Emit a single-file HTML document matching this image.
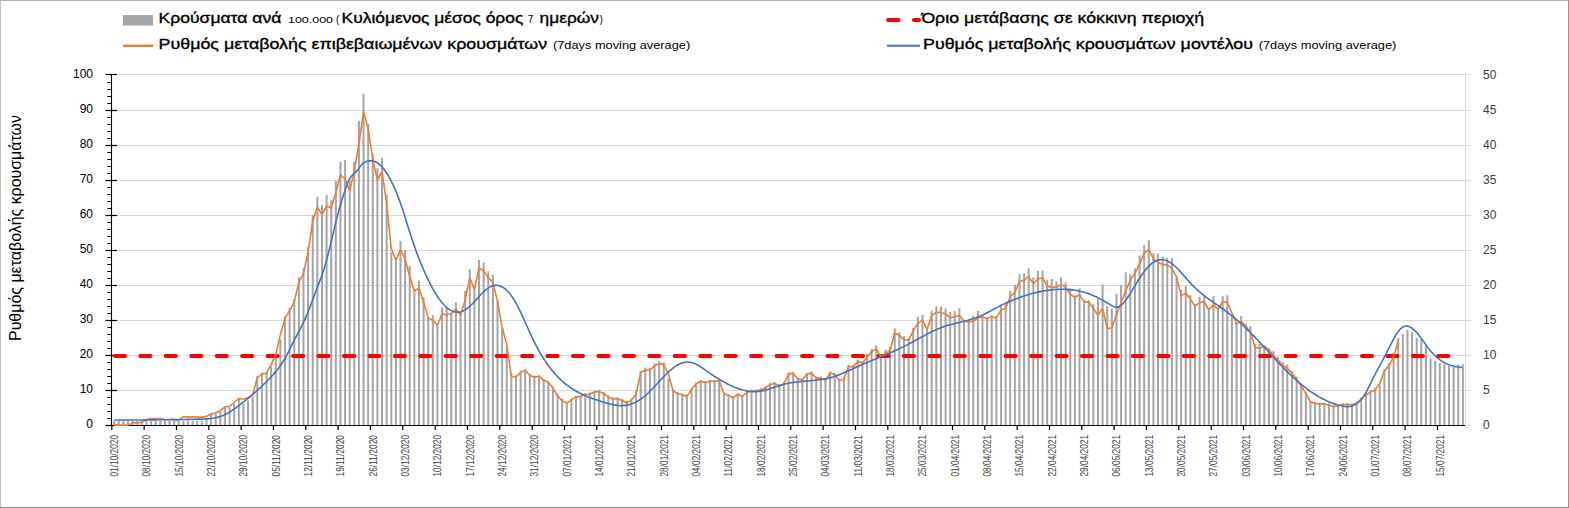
<!DOCTYPE html><html><head><meta charset="utf-8"><style>html,body{margin:0;padding:0;background:#fff;}svg{display:block;}text{font-family:"Liberation Sans",sans-serif;}</style></head><body>
<svg width="1569" height="508" viewBox="0 0 1569 508">
<rect x="0" y="0" width="1569" height="508" fill="#fff"/>
<rect x="0" y="0" width="1569" height="1" fill="#b4b4b4"/>
<rect x="0" y="0" width="1" height="508" fill="#bdbdbd"/>
<rect x="1568" y="0" width="1" height="508" fill="#959595"/>
<rect x="0" y="507" width="1569" height="1" fill="#8f8f8f"/>
<line x1="111.5" y1="390.50" x2="1465.5" y2="390.50" stroke="#d9d9d9" stroke-width="1"/>
<line x1="111.5" y1="355.50" x2="1465.5" y2="355.50" stroke="#d9d9d9" stroke-width="1"/>
<line x1="111.5" y1="320.50" x2="1465.5" y2="320.50" stroke="#d9d9d9" stroke-width="1"/>
<line x1="111.5" y1="285.50" x2="1465.5" y2="285.50" stroke="#d9d9d9" stroke-width="1"/>
<line x1="111.5" y1="250.50" x2="1465.5" y2="250.50" stroke="#d9d9d9" stroke-width="1"/>
<line x1="111.5" y1="215.50" x2="1465.5" y2="215.50" stroke="#d9d9d9" stroke-width="1"/>
<line x1="111.5" y1="180.50" x2="1465.5" y2="180.50" stroke="#d9d9d9" stroke-width="1"/>
<line x1="111.5" y1="145.50" x2="1465.5" y2="145.50" stroke="#d9d9d9" stroke-width="1"/>
<line x1="111.5" y1="110.50" x2="1465.5" y2="110.50" stroke="#d9d9d9" stroke-width="1"/>
<line x1="111.5" y1="74.50" x2="1465.5" y2="74.50" stroke="#d9d9d9" stroke-width="1"/>
<line x1="1465.5" y1="74" x2="1465.5" y2="425.5" stroke="#d9d9d9" stroke-width="1"/>
<line x1="1465.5" y1="425.50" x2="1471" y2="425.50" stroke="#d9d9d9" stroke-width="1"/>
<line x1="1465.5" y1="390.50" x2="1471" y2="390.50" stroke="#d9d9d9" stroke-width="1"/>
<line x1="1465.5" y1="355.50" x2="1471" y2="355.50" stroke="#d9d9d9" stroke-width="1"/>
<line x1="1465.5" y1="320.50" x2="1471" y2="320.50" stroke="#d9d9d9" stroke-width="1"/>
<line x1="1465.5" y1="285.50" x2="1471" y2="285.50" stroke="#d9d9d9" stroke-width="1"/>
<line x1="1465.5" y1="250.50" x2="1471" y2="250.50" stroke="#d9d9d9" stroke-width="1"/>
<line x1="1465.5" y1="215.50" x2="1471" y2="215.50" stroke="#d9d9d9" stroke-width="1"/>
<line x1="1465.5" y1="180.50" x2="1471" y2="180.50" stroke="#d9d9d9" stroke-width="1"/>
<line x1="1465.5" y1="145.50" x2="1471" y2="145.50" stroke="#d9d9d9" stroke-width="1"/>
<line x1="1465.5" y1="110.50" x2="1471" y2="110.50" stroke="#d9d9d9" stroke-width="1"/>
<line x1="1465.5" y1="74.50" x2="1471" y2="74.50" stroke="#d9d9d9" stroke-width="1"/>
<line x1="111.5" y1="74" x2="111.5" y2="426" stroke="#000" stroke-width="1.1"/>
<line x1="111" y1="425.5" x2="1465" y2="425.5" stroke="#000" stroke-width="1.1"/>
<line x1="105.5" y1="425.50" x2="117" y2="425.50" stroke="#000" stroke-width="1.2"/>
<line x1="107.3" y1="418.50" x2="111.5" y2="418.50" stroke="#000" stroke-width="1"/>
<line x1="107.3" y1="411.50" x2="111.5" y2="411.50" stroke="#000" stroke-width="1"/>
<line x1="107.3" y1="404.50" x2="111.5" y2="404.50" stroke="#000" stroke-width="1"/>
<line x1="107.3" y1="397.50" x2="111.5" y2="397.50" stroke="#000" stroke-width="1"/>
<line x1="105.5" y1="390.50" x2="117" y2="390.50" stroke="#000" stroke-width="1.2"/>
<line x1="107.3" y1="383.50" x2="111.5" y2="383.50" stroke="#000" stroke-width="1"/>
<line x1="107.3" y1="376.50" x2="111.5" y2="376.50" stroke="#000" stroke-width="1"/>
<line x1="107.3" y1="369.50" x2="111.5" y2="369.50" stroke="#000" stroke-width="1"/>
<line x1="107.3" y1="362.50" x2="111.5" y2="362.50" stroke="#000" stroke-width="1"/>
<line x1="105.5" y1="355.50" x2="117" y2="355.50" stroke="#000" stroke-width="1.2"/>
<line x1="107.3" y1="348.50" x2="111.5" y2="348.50" stroke="#000" stroke-width="1"/>
<line x1="107.3" y1="341.50" x2="111.5" y2="341.50" stroke="#000" stroke-width="1"/>
<line x1="107.3" y1="334.50" x2="111.5" y2="334.50" stroke="#000" stroke-width="1"/>
<line x1="107.3" y1="327.50" x2="111.5" y2="327.50" stroke="#000" stroke-width="1"/>
<line x1="105.5" y1="320.50" x2="117" y2="320.50" stroke="#000" stroke-width="1.2"/>
<line x1="107.3" y1="313.50" x2="111.5" y2="313.50" stroke="#000" stroke-width="1"/>
<line x1="107.3" y1="306.50" x2="111.5" y2="306.50" stroke="#000" stroke-width="1"/>
<line x1="107.3" y1="299.50" x2="111.5" y2="299.50" stroke="#000" stroke-width="1"/>
<line x1="107.3" y1="292.50" x2="111.5" y2="292.50" stroke="#000" stroke-width="1"/>
<line x1="105.5" y1="285.50" x2="117" y2="285.50" stroke="#000" stroke-width="1.2"/>
<line x1="107.3" y1="278.50" x2="111.5" y2="278.50" stroke="#000" stroke-width="1"/>
<line x1="107.3" y1="271.50" x2="111.5" y2="271.50" stroke="#000" stroke-width="1"/>
<line x1="107.3" y1="264.50" x2="111.5" y2="264.50" stroke="#000" stroke-width="1"/>
<line x1="107.3" y1="257.50" x2="111.5" y2="257.50" stroke="#000" stroke-width="1"/>
<line x1="105.5" y1="250.50" x2="117" y2="250.50" stroke="#000" stroke-width="1.2"/>
<line x1="107.3" y1="243.50" x2="111.5" y2="243.50" stroke="#000" stroke-width="1"/>
<line x1="107.3" y1="236.50" x2="111.5" y2="236.50" stroke="#000" stroke-width="1"/>
<line x1="107.3" y1="229.50" x2="111.5" y2="229.50" stroke="#000" stroke-width="1"/>
<line x1="107.3" y1="222.50" x2="111.5" y2="222.50" stroke="#000" stroke-width="1"/>
<line x1="105.5" y1="215.50" x2="117" y2="215.50" stroke="#000" stroke-width="1.2"/>
<line x1="107.3" y1="208.50" x2="111.5" y2="208.50" stroke="#000" stroke-width="1"/>
<line x1="107.3" y1="201.50" x2="111.5" y2="201.50" stroke="#000" stroke-width="1"/>
<line x1="107.3" y1="194.50" x2="111.5" y2="194.50" stroke="#000" stroke-width="1"/>
<line x1="107.3" y1="187.50" x2="111.5" y2="187.50" stroke="#000" stroke-width="1"/>
<line x1="105.5" y1="180.50" x2="117" y2="180.50" stroke="#000" stroke-width="1.2"/>
<line x1="107.3" y1="173.50" x2="111.5" y2="173.50" stroke="#000" stroke-width="1"/>
<line x1="107.3" y1="166.50" x2="111.5" y2="166.50" stroke="#000" stroke-width="1"/>
<line x1="107.3" y1="159.50" x2="111.5" y2="159.50" stroke="#000" stroke-width="1"/>
<line x1="107.3" y1="152.50" x2="111.5" y2="152.50" stroke="#000" stroke-width="1"/>
<line x1="105.5" y1="145.50" x2="117" y2="145.50" stroke="#000" stroke-width="1.2"/>
<line x1="107.3" y1="138.50" x2="111.5" y2="138.50" stroke="#000" stroke-width="1"/>
<line x1="107.3" y1="131.50" x2="111.5" y2="131.50" stroke="#000" stroke-width="1"/>
<line x1="107.3" y1="124.50" x2="111.5" y2="124.50" stroke="#000" stroke-width="1"/>
<line x1="107.3" y1="117.50" x2="111.5" y2="117.50" stroke="#000" stroke-width="1"/>
<line x1="105.5" y1="110.50" x2="117" y2="110.50" stroke="#000" stroke-width="1.2"/>
<line x1="107.3" y1="103.50" x2="111.5" y2="103.50" stroke="#000" stroke-width="1"/>
<line x1="107.3" y1="96.50" x2="111.5" y2="96.50" stroke="#000" stroke-width="1"/>
<line x1="107.3" y1="89.50" x2="111.5" y2="89.50" stroke="#000" stroke-width="1"/>
<line x1="107.3" y1="82.50" x2="111.5" y2="82.50" stroke="#000" stroke-width="1"/>
<line x1="105.5" y1="74.50" x2="117" y2="74.50" stroke="#000" stroke-width="1.2"/>
<line x1="111.80" y1="425.5" x2="111.80" y2="430" stroke="#000" stroke-width="1.2"/>
<line x1="144.13" y1="425.5" x2="144.13" y2="430" stroke="#000" stroke-width="1.2"/>
<line x1="176.47" y1="425.5" x2="176.47" y2="430" stroke="#000" stroke-width="1.2"/>
<line x1="208.80" y1="425.5" x2="208.80" y2="430" stroke="#000" stroke-width="1.2"/>
<line x1="241.14" y1="425.5" x2="241.14" y2="430" stroke="#000" stroke-width="1.2"/>
<line x1="273.47" y1="425.5" x2="273.47" y2="430" stroke="#000" stroke-width="1.2"/>
<line x1="305.80" y1="425.5" x2="305.80" y2="430" stroke="#000" stroke-width="1.2"/>
<line x1="338.14" y1="425.5" x2="338.14" y2="430" stroke="#000" stroke-width="1.2"/>
<line x1="370.47" y1="425.5" x2="370.47" y2="430" stroke="#000" stroke-width="1.2"/>
<line x1="402.80" y1="425.5" x2="402.80" y2="430" stroke="#000" stroke-width="1.2"/>
<line x1="435.14" y1="425.5" x2="435.14" y2="430" stroke="#000" stroke-width="1.2"/>
<line x1="467.47" y1="425.5" x2="467.47" y2="430" stroke="#000" stroke-width="1.2"/>
<line x1="499.81" y1="425.5" x2="499.81" y2="430" stroke="#000" stroke-width="1.2"/>
<line x1="532.14" y1="425.5" x2="532.14" y2="430" stroke="#000" stroke-width="1.2"/>
<line x1="564.47" y1="425.5" x2="564.47" y2="430" stroke="#000" stroke-width="1.2"/>
<line x1="596.81" y1="425.5" x2="596.81" y2="430" stroke="#000" stroke-width="1.2"/>
<line x1="629.14" y1="425.5" x2="629.14" y2="430" stroke="#000" stroke-width="1.2"/>
<line x1="661.47" y1="425.5" x2="661.47" y2="430" stroke="#000" stroke-width="1.2"/>
<line x1="693.81" y1="425.5" x2="693.81" y2="430" stroke="#000" stroke-width="1.2"/>
<line x1="726.14" y1="425.5" x2="726.14" y2="430" stroke="#000" stroke-width="1.2"/>
<line x1="758.48" y1="425.5" x2="758.48" y2="430" stroke="#000" stroke-width="1.2"/>
<line x1="790.81" y1="425.5" x2="790.81" y2="430" stroke="#000" stroke-width="1.2"/>
<line x1="823.14" y1="425.5" x2="823.14" y2="430" stroke="#000" stroke-width="1.2"/>
<line x1="855.48" y1="425.5" x2="855.48" y2="430" stroke="#000" stroke-width="1.2"/>
<line x1="887.81" y1="425.5" x2="887.81" y2="430" stroke="#000" stroke-width="1.2"/>
<line x1="920.14" y1="425.5" x2="920.14" y2="430" stroke="#000" stroke-width="1.2"/>
<line x1="952.48" y1="425.5" x2="952.48" y2="430" stroke="#000" stroke-width="1.2"/>
<line x1="984.81" y1="425.5" x2="984.81" y2="430" stroke="#000" stroke-width="1.2"/>
<line x1="1017.15" y1="425.5" x2="1017.15" y2="430" stroke="#000" stroke-width="1.2"/>
<line x1="1049.48" y1="425.5" x2="1049.48" y2="430" stroke="#000" stroke-width="1.2"/>
<line x1="1081.81" y1="425.5" x2="1081.81" y2="430" stroke="#000" stroke-width="1.2"/>
<line x1="1114.15" y1="425.5" x2="1114.15" y2="430" stroke="#000" stroke-width="1.2"/>
<line x1="1146.48" y1="425.5" x2="1146.48" y2="430" stroke="#000" stroke-width="1.2"/>
<line x1="1178.82" y1="425.5" x2="1178.82" y2="430" stroke="#000" stroke-width="1.2"/>
<line x1="1211.15" y1="425.5" x2="1211.15" y2="430" stroke="#000" stroke-width="1.2"/>
<line x1="1243.48" y1="425.5" x2="1243.48" y2="430" stroke="#000" stroke-width="1.2"/>
<line x1="1275.82" y1="425.5" x2="1275.82" y2="430" stroke="#000" stroke-width="1.2"/>
<line x1="1308.15" y1="425.5" x2="1308.15" y2="430" stroke="#000" stroke-width="1.2"/>
<line x1="1340.48" y1="425.5" x2="1340.48" y2="430" stroke="#000" stroke-width="1.2"/>
<line x1="1372.82" y1="425.5" x2="1372.82" y2="430" stroke="#000" stroke-width="1.2"/>
<line x1="1405.15" y1="425.5" x2="1405.15" y2="430" stroke="#000" stroke-width="1.2"/>
<line x1="1437.49" y1="425.5" x2="1437.49" y2="430" stroke="#000" stroke-width="1.2"/>
<g fill="#a5a5a5"><rect x="113.11" y="420.80" width="2.0" height="4.20"/><rect x="117.73" y="420.80" width="2.0" height="4.20"/><rect x="122.35" y="420.80" width="2.0" height="4.20"/><rect x="126.97" y="420.80" width="2.0" height="4.20"/><rect x="131.59" y="420.80" width="2.0" height="4.20"/><rect x="136.21" y="420.80" width="2.0" height="4.20"/><rect x="140.82" y="420.80" width="2.0" height="4.20"/><rect x="145.44" y="420.80" width="2.0" height="4.20"/><rect x="150.06" y="420.80" width="2.0" height="4.20"/><rect x="154.68" y="420.80" width="2.0" height="4.20"/><rect x="159.30" y="420.80" width="2.0" height="4.20"/><rect x="163.92" y="420.80" width="2.0" height="4.20"/><rect x="168.54" y="420.80" width="2.0" height="4.20"/><rect x="173.16" y="420.80" width="2.0" height="4.20"/><rect x="177.78" y="420.80" width="2.0" height="4.20"/><rect x="182.40" y="420.80" width="2.0" height="4.20"/><rect x="187.02" y="420.80" width="2.0" height="4.20"/><rect x="191.63" y="420.80" width="2.0" height="4.20"/><rect x="196.25" y="420.80" width="2.0" height="4.20"/><rect x="200.87" y="420.80" width="2.0" height="4.20"/><rect x="205.49" y="418.90" width="2.0" height="6.10"/><rect x="210.11" y="414.00" width="2.0" height="11.00"/><rect x="214.73" y="413.50" width="2.0" height="11.50"/><rect x="219.35" y="411.30" width="2.0" height="13.70"/><rect x="223.97" y="407.90" width="2.0" height="17.10"/><rect x="228.59" y="407.40" width="2.0" height="17.60"/><rect x="233.21" y="403.50" width="2.0" height="21.50"/><rect x="237.83" y="398.50" width="2.0" height="26.50"/><rect x="242.44" y="403.50" width="2.0" height="21.50"/><rect x="247.06" y="400.50" width="2.0" height="24.50"/><rect x="251.68" y="396.60" width="2.0" height="28.40"/><rect x="256.30" y="376.40" width="2.0" height="48.60"/><rect x="260.92" y="372.50" width="2.0" height="52.50"/><rect x="265.54" y="372.00" width="2.0" height="53.00"/><rect x="270.16" y="366.20" width="2.0" height="58.80"/><rect x="274.78" y="353.90" width="2.0" height="71.10"/><rect x="279.40" y="339.40" width="2.0" height="85.60"/><rect x="284.02" y="316.00" width="2.0" height="109.00"/><rect x="288.64" y="307.80" width="2.0" height="117.20"/><rect x="293.25" y="299.00" width="2.0" height="126.00"/><rect x="297.87" y="277.20" width="2.0" height="147.80"/><rect x="302.49" y="268.20" width="2.0" height="156.80"/><rect x="307.11" y="247.00" width="2.0" height="178.00"/><rect x="311.73" y="214.50" width="2.0" height="210.50"/><rect x="316.35" y="196.60" width="2.0" height="228.40"/><rect x="320.97" y="205.00" width="2.0" height="220.00"/><rect x="325.59" y="195.10" width="2.0" height="229.90"/><rect x="330.21" y="200.20" width="2.0" height="224.80"/><rect x="334.83" y="181.00" width="2.0" height="244.00"/><rect x="339.45" y="161.80" width="2.0" height="263.20"/><rect x="344.07" y="160.00" width="2.0" height="265.00"/><rect x="348.68" y="181.00" width="2.0" height="244.00"/><rect x="353.30" y="161.80" width="2.0" height="263.20"/><rect x="357.92" y="120.90" width="2.0" height="304.10"/><rect x="362.54" y="94.10" width="2.0" height="330.90"/><rect x="367.16" y="124.00" width="2.0" height="301.00"/><rect x="371.78" y="154.20" width="2.0" height="270.80"/><rect x="376.40" y="168.20" width="2.0" height="256.80"/><rect x="381.02" y="158.00" width="2.0" height="267.00"/><rect x="385.64" y="195.10" width="2.0" height="229.90"/><rect x="390.26" y="252.40" width="2.0" height="172.60"/><rect x="394.88" y="260.10" width="2.0" height="164.90"/><rect x="399.49" y="240.90" width="2.0" height="184.10"/><rect x="404.11" y="249.90" width="2.0" height="175.10"/><rect x="408.73" y="266.00" width="2.0" height="159.00"/><rect x="413.35" y="289.50" width="2.0" height="135.50"/><rect x="417.97" y="280.60" width="2.0" height="144.40"/><rect x="422.59" y="297.20" width="2.0" height="127.80"/><rect x="427.21" y="317.60" width="2.0" height="107.40"/><rect x="431.83" y="315.10" width="2.0" height="109.90"/><rect x="436.45" y="325.30" width="2.0" height="99.70"/><rect x="441.07" y="307.40" width="2.0" height="117.60"/><rect x="445.69" y="307.40" width="2.0" height="117.60"/><rect x="450.30" y="312.50" width="2.0" height="112.50"/><rect x="454.92" y="302.30" width="2.0" height="122.70"/><rect x="459.54" y="312.50" width="2.0" height="112.50"/><rect x="464.16" y="290.80" width="2.0" height="134.20"/><rect x="468.78" y="269.10" width="2.0" height="155.90"/><rect x="473.40" y="287.00" width="2.0" height="138.00"/><rect x="478.02" y="260.00" width="2.0" height="165.00"/><rect x="482.64" y="262.50" width="2.0" height="162.50"/><rect x="487.26" y="271.20" width="2.0" height="153.80"/><rect x="491.88" y="274.50" width="2.0" height="150.50"/><rect x="496.50" y="301.40" width="2.0" height="123.60"/><rect x="501.12" y="328.28" width="2.0" height="96.72"/><rect x="505.73" y="347.44" width="2.0" height="77.56"/><rect x="510.35" y="372.89" width="2.0" height="52.11"/><rect x="514.97" y="375.33" width="2.0" height="49.67"/><rect x="519.59" y="370.76" width="2.0" height="54.24"/><rect x="524.21" y="369.13" width="2.0" height="55.87"/><rect x="528.83" y="373.97" width="2.0" height="51.03"/><rect x="533.45" y="375.67" width="2.0" height="49.33"/><rect x="538.07" y="375.04" width="2.0" height="49.96"/><rect x="542.69" y="378.93" width="2.0" height="46.07"/><rect x="547.31" y="380.95" width="2.0" height="44.05"/><rect x="551.93" y="386.51" width="2.0" height="38.49"/><rect x="556.54" y="393.93" width="2.0" height="31.07"/><rect x="561.16" y="398.76" width="2.0" height="26.24"/><rect x="565.78" y="401.69" width="2.0" height="23.31"/><rect x="570.40" y="398.60" width="2.0" height="26.40"/><rect x="575.02" y="395.75" width="2.0" height="29.25"/><rect x="579.64" y="395.07" width="2.0" height="29.93"/><rect x="584.26" y="393.57" width="2.0" height="31.43"/><rect x="588.88" y="392.58" width="2.0" height="32.42"/><rect x="593.50" y="390.83" width="2.0" height="34.17"/><rect x="598.12" y="389.93" width="2.0" height="35.07"/><rect x="602.74" y="392.28" width="2.0" height="32.72"/><rect x="607.35" y="395.50" width="2.0" height="29.50"/><rect x="611.97" y="397.39" width="2.0" height="27.61"/><rect x="616.59" y="397.40" width="2.0" height="27.60"/><rect x="621.21" y="398.78" width="2.0" height="26.22"/><rect x="625.83" y="400.85" width="2.0" height="24.15"/><rect x="630.45" y="398.62" width="2.0" height="26.38"/><rect x="635.07" y="390.39" width="2.0" height="34.61"/><rect x="639.69" y="370.85" width="2.0" height="54.15"/><rect x="644.31" y="367.60" width="2.0" height="57.40"/><rect x="648.93" y="368.00" width="2.0" height="57.00"/><rect x="653.55" y="363.30" width="2.0" height="61.70"/><rect x="658.16" y="361.30" width="2.0" height="63.70"/><rect x="662.78" y="362.40" width="2.0" height="62.60"/><rect x="667.40" y="378.60" width="2.0" height="46.40"/><rect x="672.02" y="389.51" width="2.0" height="35.49"/><rect x="676.64" y="392.12" width="2.0" height="32.88"/><rect x="681.26" y="393.39" width="2.0" height="31.61"/><rect x="685.88" y="394.64" width="2.0" height="30.36"/><rect x="690.50" y="387.98" width="2.0" height="37.02"/><rect x="695.12" y="382.29" width="2.0" height="42.71"/><rect x="699.74" y="379.88" width="2.0" height="45.12"/><rect x="704.36" y="380.94" width="2.0" height="44.06"/><rect x="708.98" y="379.88" width="2.0" height="45.12"/><rect x="713.59" y="379.80" width="2.0" height="45.20"/><rect x="718.21" y="379.69" width="2.0" height="45.31"/><rect x="722.83" y="392.05" width="2.0" height="32.95"/><rect x="727.45" y="393.92" width="2.0" height="31.08"/><rect x="732.07" y="395.99" width="2.0" height="29.01"/><rect x="736.69" y="392.94" width="2.0" height="32.06"/><rect x="741.31" y="394.77" width="2.0" height="30.23"/><rect x="745.93" y="391.12" width="2.0" height="33.88"/><rect x="750.55" y="389.60" width="2.0" height="35.40"/><rect x="755.17" y="389.50" width="2.0" height="35.50"/><rect x="759.79" y="388.08" width="2.0" height="36.92"/><rect x="764.40" y="386.06" width="2.0" height="38.94"/><rect x="769.02" y="383.04" width="2.0" height="41.96"/><rect x="773.64" y="382.15" width="2.0" height="42.85"/><rect x="778.26" y="384.18" width="2.0" height="40.82"/><rect x="782.88" y="381.88" width="2.0" height="43.12"/><rect x="787.50" y="372.51" width="2.0" height="52.49"/><rect x="792.12" y="372.36" width="2.0" height="52.64"/><rect x="796.74" y="377.66" width="2.0" height="47.34"/><rect x="801.36" y="378.43" width="2.0" height="46.57"/><rect x="805.98" y="372.87" width="2.0" height="52.13"/><rect x="810.60" y="371.60" width="2.0" height="53.40"/><rect x="815.21" y="376.60" width="2.0" height="48.40"/><rect x="819.83" y="376.60" width="2.0" height="48.40"/><rect x="824.45" y="378.44" width="2.0" height="46.56"/><rect x="829.07" y="371.64" width="2.0" height="53.36"/><rect x="833.69" y="373.78" width="2.0" height="51.22"/><rect x="838.31" y="378.92" width="2.0" height="46.08"/><rect x="842.93" y="376.85" width="2.0" height="48.15"/><rect x="847.55" y="364.97" width="2.0" height="60.03"/><rect x="852.17" y="364.90" width="2.0" height="60.10"/><rect x="856.79" y="359.40" width="2.0" height="65.60"/><rect x="861.41" y="361.39" width="2.0" height="63.61"/><rect x="866.02" y="353.90" width="2.0" height="71.10"/><rect x="870.64" y="349.10" width="2.0" height="75.90"/><rect x="875.26" y="345.20" width="2.0" height="79.80"/><rect x="879.88" y="354.44" width="2.0" height="70.56"/><rect x="884.50" y="349.50" width="2.0" height="75.50"/><rect x="889.12" y="346.74" width="2.0" height="78.26"/><rect x="893.74" y="328.30" width="2.0" height="96.70"/><rect x="898.36" y="332.20" width="2.0" height="92.80"/><rect x="902.98" y="336.10" width="2.0" height="88.90"/><rect x="907.60" y="338.41" width="2.0" height="86.59"/><rect x="912.22" y="328.00" width="2.0" height="97.00"/><rect x="916.84" y="316.70" width="2.0" height="108.30"/><rect x="921.45" y="314.80" width="2.0" height="110.20"/><rect x="926.07" y="327.74" width="2.0" height="97.26"/><rect x="930.69" y="310.80" width="2.0" height="114.20"/><rect x="935.31" y="306.10" width="2.0" height="118.90"/><rect x="939.93" y="306.50" width="2.0" height="118.50"/><rect x="944.55" y="308.40" width="2.0" height="116.60"/><rect x="949.17" y="312.00" width="2.0" height="113.00"/><rect x="953.79" y="311.00" width="2.0" height="114.00"/><rect x="958.41" y="308.20" width="2.0" height="116.80"/><rect x="963.03" y="319.65" width="2.0" height="105.35"/><rect x="967.65" y="320.28" width="2.0" height="104.72"/><rect x="972.26" y="315.50" width="2.0" height="109.50"/><rect x="976.88" y="311.00" width="2.0" height="114.00"/><rect x="981.50" y="315.36" width="2.0" height="109.64"/><rect x="986.12" y="317.01" width="2.0" height="107.99"/><rect x="990.74" y="315.24" width="2.0" height="109.76"/><rect x="995.36" y="316.30" width="2.0" height="108.70"/><rect x="999.98" y="304.90" width="2.0" height="120.10"/><rect x="1004.60" y="303.70" width="2.0" height="121.30"/><rect x="1009.22" y="290.80" width="2.0" height="134.20"/><rect x="1013.84" y="284.90" width="2.0" height="140.10"/><rect x="1018.46" y="274.30" width="2.0" height="150.70"/><rect x="1023.07" y="273.10" width="2.0" height="151.90"/><rect x="1027.69" y="268.30" width="2.0" height="156.70"/><rect x="1032.31" y="277.30" width="2.0" height="147.70"/><rect x="1036.93" y="270.70" width="2.0" height="154.30"/><rect x="1041.55" y="270.70" width="2.0" height="154.30"/><rect x="1046.17" y="279.70" width="2.0" height="145.30"/><rect x="1050.79" y="279.00" width="2.0" height="146.00"/><rect x="1055.41" y="281.30" width="2.0" height="143.70"/><rect x="1060.03" y="277.30" width="2.0" height="147.70"/><rect x="1064.65" y="282.50" width="2.0" height="142.50"/><rect x="1069.27" y="288.40" width="2.0" height="136.60"/><rect x="1073.88" y="295.57" width="2.0" height="129.43"/><rect x="1078.50" y="288.40" width="2.0" height="136.60"/><rect x="1083.12" y="299.69" width="2.0" height="125.31"/><rect x="1087.74" y="300.40" width="2.0" height="124.60"/><rect x="1092.36" y="303.80" width="2.0" height="121.20"/><rect x="1096.98" y="298.60" width="2.0" height="126.40"/><rect x="1101.60" y="284.40" width="2.0" height="140.60"/><rect x="1106.22" y="306.10" width="2.0" height="118.90"/><rect x="1110.84" y="308.60" width="2.0" height="116.40"/><rect x="1115.46" y="294.15" width="2.0" height="130.85"/><rect x="1120.08" y="285.00" width="2.0" height="140.00"/><rect x="1124.70" y="272.40" width="2.0" height="152.60"/><rect x="1129.31" y="274.30" width="2.0" height="150.70"/><rect x="1133.93" y="268.40" width="2.0" height="156.60"/><rect x="1138.55" y="255.40" width="2.0" height="169.60"/><rect x="1143.17" y="244.80" width="2.0" height="180.20"/><rect x="1147.79" y="240.10" width="2.0" height="184.90"/><rect x="1152.41" y="253.10" width="2.0" height="171.90"/><rect x="1157.03" y="253.50" width="2.0" height="171.50"/><rect x="1161.65" y="256.60" width="2.0" height="168.40"/><rect x="1166.27" y="257.80" width="2.0" height="167.20"/><rect x="1170.89" y="257.80" width="2.0" height="167.20"/><rect x="1175.51" y="276.70" width="2.0" height="148.30"/><rect x="1180.12" y="289.70" width="2.0" height="135.30"/><rect x="1184.74" y="286.10" width="2.0" height="138.90"/><rect x="1189.36" y="295.10" width="2.0" height="129.90"/><rect x="1193.98" y="304.42" width="2.0" height="120.58"/><rect x="1198.60" y="296.80" width="2.0" height="128.20"/><rect x="1203.22" y="295.60" width="2.0" height="129.40"/><rect x="1207.84" y="308.16" width="2.0" height="116.84"/><rect x="1212.46" y="296.10" width="2.0" height="128.90"/><rect x="1217.08" y="307.69" width="2.0" height="117.31"/><rect x="1221.70" y="296.10" width="2.0" height="128.90"/><rect x="1226.32" y="295.20" width="2.0" height="129.80"/><rect x="1230.93" y="314.20" width="2.0" height="110.80"/><rect x="1235.55" y="322.40" width="2.0" height="102.60"/><rect x="1240.17" y="316.10" width="2.0" height="108.90"/><rect x="1244.79" y="323.60" width="2.0" height="101.40"/><rect x="1249.41" y="326.00" width="2.0" height="99.00"/><rect x="1254.03" y="343.70" width="2.0" height="81.30"/><rect x="1258.65" y="343.70" width="2.0" height="81.30"/><rect x="1263.27" y="346.10" width="2.0" height="78.90"/><rect x="1267.89" y="348.40" width="2.0" height="76.60"/><rect x="1272.51" y="350.80" width="2.0" height="74.20"/><rect x="1277.13" y="356.70" width="2.0" height="68.30"/><rect x="1281.75" y="361.90" width="2.0" height="63.10"/><rect x="1286.36" y="364.30" width="2.0" height="60.70"/><rect x="1290.98" y="370.90" width="2.0" height="54.10"/><rect x="1295.60" y="376.80" width="2.0" height="48.20"/><rect x="1300.22" y="383.90" width="2.0" height="41.10"/><rect x="1304.84" y="392.10" width="2.0" height="32.90"/><rect x="1309.46" y="401.60" width="2.0" height="23.40"/><rect x="1314.08" y="401.75" width="2.0" height="23.25"/><rect x="1318.70" y="402.34" width="2.0" height="22.66"/><rect x="1323.32" y="402.40" width="2.0" height="22.60"/><rect x="1327.94" y="403.36" width="2.0" height="21.64"/><rect x="1332.56" y="404.92" width="2.0" height="20.08"/><rect x="1337.17" y="404.54" width="2.0" height="20.46"/><rect x="1341.79" y="403.02" width="2.0" height="21.98"/><rect x="1346.41" y="403.04" width="2.0" height="21.96"/><rect x="1351.03" y="403.29" width="2.0" height="21.71"/><rect x="1355.65" y="401.62" width="2.0" height="23.38"/><rect x="1360.27" y="397.73" width="2.0" height="27.27"/><rect x="1364.89" y="393.52" width="2.0" height="31.48"/><rect x="1369.51" y="390.59" width="2.0" height="34.41"/><rect x="1374.13" y="387.88" width="2.0" height="37.12"/><rect x="1378.75" y="384.70" width="2.0" height="40.30"/><rect x="1383.37" y="369.60" width="2.0" height="55.40"/><rect x="1387.98" y="363.40" width="2.0" height="61.60"/><rect x="1392.60" y="353.10" width="2.0" height="71.90"/><rect x="1397.22" y="337.90" width="2.0" height="87.10"/><rect x="1401.84" y="333.80" width="2.0" height="91.20"/><rect x="1406.46" y="329.90" width="2.0" height="95.10"/><rect x="1411.08" y="332.10" width="2.0" height="92.90"/><rect x="1415.70" y="337.90" width="2.0" height="87.10"/><rect x="1420.32" y="339.50" width="2.0" height="85.50"/><rect x="1424.94" y="345.40" width="2.0" height="79.60"/><rect x="1429.56" y="358.40" width="2.0" height="66.60"/><rect x="1434.18" y="360.80" width="2.0" height="64.20"/><rect x="1438.79" y="363.20" width="2.0" height="61.80"/><rect x="1443.41" y="364.30" width="2.0" height="60.70"/><rect x="1448.03" y="365.50" width="2.0" height="59.50"/><rect x="1452.65" y="366.70" width="2.0" height="58.30"/><rect x="1457.27" y="364.30" width="2.0" height="60.70"/><rect x="1461.89" y="364.30" width="2.0" height="60.70"/></g>
<line x1="114.8" y1="356" x2="1460" y2="356" stroke="#ff0000" stroke-width="3.8" stroke-linecap="round" stroke-dasharray="10.3 15.15"/>
<polyline points="114.11,425.10 118.73,425.10 123.35,425.10 127.97,425.10 132.59,422.90 137.21,422.90 141.82,422.30 146.44,419.55 151.06,418.50 155.68,418.50 160.30,418.50 164.92,419.50 169.54,419.50 174.16,419.50 178.78,420.30 183.40,416.70 188.02,416.90 192.63,416.90 197.25,417.10 201.87,417.10 206.49,416.40 211.11,414.00 215.73,412.70 220.35,410.70 224.97,406.90 229.59,406.40 234.21,402.50 238.83,398.50 243.44,399.00 248.06,397.74 252.68,395.10 257.30,377.40 261.92,374.40 266.54,373.00 271.16,364.70 275.78,355.00 280.40,334.40 285.02,318.20 289.64,310.60 294.25,301.90 298.87,282.30 303.49,273.40 308.11,251.60 312.73,221.00 317.35,206.90 321.97,214.50 326.59,206.06 331.21,207.90 335.83,192.50 340.45,174.80 345.07,179.20 349.68,190.80 354.30,171.30 358.92,143.90 363.54,112.00 368.16,128.60 372.78,160.00 377.40,180.00 382.02,171.50 386.64,203.16 391.26,248.60 395.88,260.10 400.49,249.90 405.11,258.80 409.73,276.70 414.35,290.80 418.97,288.20 423.59,302.30 428.21,317.60 432.83,320.20 437.45,325.30 442.07,313.80 446.69,315.10 451.30,313.80 455.92,308.70 460.54,315.10 465.16,299.70 469.78,278.00 474.40,289.00 479.02,268.00 483.64,270.70 488.26,277.90 492.88,282.20 497.50,301.40 502.12,327.00 506.73,344.90 511.35,376.30 515.97,377.20 520.59,372.30 525.21,370.40 529.83,375.30 534.45,377.20 539.07,376.30 543.69,380.20 548.31,382.20 552.93,388.10 557.54,396.00 562.16,400.90 566.78,403.20 571.40,399.90 576.02,396.90 580.64,396.50 585.26,394.60 589.88,394.00 594.50,392.00 599.12,391.40 603.74,393.40 608.35,396.90 612.97,398.90 617.59,398.90 622.21,400.50 626.83,402.80 631.45,400.12 636.07,394.30 640.69,372.30 645.31,370.20 649.93,369.90 654.55,366.00 659.16,363.60 663.78,364.40 668.40,373.90 673.02,390.70 677.64,393.50 682.26,394.80 686.88,396.40 691.50,389.60 696.12,383.80 700.74,381.30 705.36,382.50 709.98,381.30 714.59,381.30 719.21,380.60 723.83,393.50 728.45,395.40 733.07,397.50 737.69,394.30 742.31,396.40 746.93,392.30 751.55,391.00 756.17,391.00 760.79,389.90 765.40,387.90 770.02,384.60 774.64,383.40 779.26,385.90 783.88,384.00 788.50,374.10 793.12,373.10 797.74,379.10 802.36,380.00 806.98,374.10 811.60,373.10 816.21,378.10 820.83,378.10 825.45,380.00 830.07,373.10 834.69,374.10 839.31,380.60 843.93,379.10 848.55,366.30 853.17,367.20 857.79,361.30 862.41,362.90 867.02,357.40 871.64,351.50 876.26,349.10 880.88,356.40 885.50,353.50 890.12,350.50 894.74,333.00 899.36,335.50 903.98,339.80 908.60,340.30 913.22,330.90 917.84,323.30 922.45,320.20 927.07,329.70 931.69,315.50 936.31,312.40 940.93,312.40 945.55,313.90 950.17,317.90 954.79,316.70 959.41,315.50 964.03,321.00 968.65,321.90 973.26,321.00 977.88,317.90 982.50,316.70 987.12,318.60 991.74,316.70 996.36,317.90 1000.98,310.10 1005.60,308.40 1010.22,296.70 1014.84,292.40 1019.46,281.30 1024.07,280.20 1028.69,276.60 1033.31,283.70 1037.93,279.00 1042.55,277.80 1047.17,286.10 1051.79,287.20 1056.41,287.20 1061.03,284.40 1065.65,287.20 1070.27,294.30 1074.88,297.20 1079.50,294.80 1084.12,301.90 1088.74,301.90 1093.36,308.50 1097.98,315.10 1102.60,308.50 1107.22,328.60 1111.84,327.90 1116.46,315.10 1121.08,302.70 1125.70,290.90 1130.31,280.20 1134.93,273.20 1139.55,263.70 1144.17,253.10 1148.79,249.50 1153.41,259.00 1158.03,262.50 1162.65,264.40 1167.27,264.90 1171.89,268.40 1176.51,276.70 1181.12,295.60 1185.74,293.20 1190.36,299.10 1194.98,306.20 1199.60,302.70 1204.22,301.50 1208.84,309.80 1213.46,305.00 1218.08,309.30 1222.70,301.50 1227.32,302.40 1231.93,313.00 1236.55,323.60 1241.17,321.30 1245.79,326.00 1250.41,331.90 1255.03,347.20 1259.65,348.40 1264.27,346.10 1268.89,349.60 1273.51,355.50 1278.13,360.20 1282.75,365.00 1287.36,368.50 1291.98,373.20 1296.60,379.10 1301.22,386.20 1305.84,393.30 1310.46,401.60 1315.08,403.50 1319.70,403.90 1324.32,403.90 1328.94,405.10 1333.56,406.80 1338.17,405.80 1342.79,404.52 1347.41,404.54 1352.03,404.79 1356.65,403.12 1361.27,399.23 1365.89,395.02 1370.51,392.09 1375.13,390.00 1379.75,383.40 1384.37,371.00 1388.98,365.50 1393.60,357.20 1398.22,341.00" fill="none" stroke="#ed7d31" stroke-width="1.6" stroke-linejoin="round"/>
<polyline points="114.11,420.07 115.11,420.07 116.11,420.06 117.11,420.06 118.11,420.05 119.11,420.05 120.11,420.05 121.11,420.04 122.11,420.04 123.11,420.03 124.11,420.03 125.11,420.03 126.11,420.02 127.11,420.02 128.11,420.01 129.11,420.01 130.11,420.00 131.11,420.00 132.11,419.99 133.11,419.99 134.11,419.98 135.11,419.98 136.11,419.97 137.11,419.97 138.11,419.96 139.11,419.96 140.11,419.95 141.11,419.94 142.11,419.94 143.11,419.93 144.11,419.92 145.11,419.92 146.11,419.91 147.11,419.90 148.11,419.89 149.11,419.89 150.11,419.88 151.11,419.87 152.11,419.86 153.11,419.85 154.11,419.84 155.11,419.84 156.11,419.83 157.11,419.82 158.11,419.81 159.11,419.80 160.11,419.79 161.11,419.78 162.11,419.77 163.11,419.75 164.11,419.74 165.11,419.73 166.11,419.72 167.11,419.71 168.11,419.69 169.11,419.68 170.11,419.67 171.11,419.66 172.11,419.64 173.11,419.63 174.11,419.61 175.11,419.60 176.11,419.58 177.11,419.57 178.11,419.55 179.11,419.54 180.11,419.52 181.11,419.50 182.11,419.49 183.11,419.47 184.11,419.45 185.11,419.43 186.11,419.42 187.11,419.40 188.11,419.38 189.11,419.36 190.11,419.34 191.11,419.32 192.11,419.30 193.11,419.27 194.11,419.25 195.11,419.23 196.11,419.21 197.11,419.18 198.11,419.16 199.11,419.14 200.11,419.11 201.11,419.09 202.11,419.06 203.11,419.03 204.11,418.99 205.11,418.94 206.11,418.89 207.11,418.83 208.11,418.76 209.11,418.67 210.11,418.57 211.11,418.46 212.11,418.33 213.11,418.18 214.11,418.02 215.11,417.83 216.11,417.62 217.11,417.39 218.11,417.13 219.11,416.85 220.11,416.54 221.11,416.20 222.11,415.83 223.11,415.43 224.11,415.00 225.11,414.54 226.11,414.03 227.11,413.50 228.11,412.94 229.11,412.34 230.11,411.72 231.11,411.08 232.11,410.41 233.11,409.73 234.11,409.02 235.11,408.30 236.11,407.56 237.11,406.82 238.11,406.06 239.11,405.30 240.11,404.53 241.11,403.75 242.11,402.98 243.11,402.19 244.11,401.40 245.11,400.61 246.11,399.81 247.11,399.00 248.11,398.19 249.11,397.37 250.11,396.54 251.11,395.71 252.11,394.87 253.11,394.02 254.11,393.16 255.11,392.29 256.11,391.41 257.11,390.52 258.11,389.63 259.11,388.72 260.11,387.80 261.11,386.87 262.11,385.93 263.11,384.98 264.11,384.01 265.11,383.03 266.11,382.04 267.11,381.04 268.11,380.02 269.11,378.99 270.11,377.94 271.11,376.88 272.11,375.80 273.11,374.69 274.11,373.55 275.11,372.38 276.11,371.17 277.11,369.92 278.11,368.63 279.11,367.29 280.11,365.91 281.11,364.47 282.11,362.97 283.11,361.41 284.11,359.78 285.11,358.09 286.11,356.33 287.11,354.49 288.11,352.57 289.11,350.59 290.11,348.56 291.11,346.51 292.11,344.45 293.11,342.42 294.11,340.42 295.11,338.47 296.11,336.58 297.11,334.71 298.11,332.86 299.11,331.00 300.11,329.13 301.11,327.22 302.11,325.26 303.11,323.23 304.11,321.12 305.11,318.91 306.11,316.60 307.11,314.20 308.11,311.73 309.11,309.19 310.11,306.60 311.11,303.96 312.11,301.29 313.11,298.61 314.11,295.91 315.11,293.22 316.11,290.54 317.11,287.89 318.11,285.27 319.11,282.69 320.11,280.11 321.11,277.46 322.11,274.71 323.11,271.81 324.11,268.70 325.11,265.37 326.11,261.83 327.11,258.12 328.11,254.26 329.11,250.27 330.11,246.18 331.11,242.02 332.11,237.81 333.11,233.58 334.11,229.36 335.11,225.18 336.11,221.08 337.11,217.10 338.11,213.27 339.11,209.60 340.11,206.07 341.11,202.66 342.11,199.36 343.11,196.14 344.11,193.00 345.11,189.92 346.11,186.98 347.11,184.25 348.11,181.81 349.11,179.74 350.11,178.03 351.11,176.61 352.11,175.43 353.11,174.41 354.11,173.48 355.11,172.58 356.11,171.63 357.11,170.57 358.11,169.33 359.11,167.94 360.11,166.53 361.11,165.22 362.11,164.12 363.11,163.25 364.11,162.56 365.11,162.03 366.11,161.62 367.11,161.30 368.11,161.04 369.11,160.87 370.11,160.78 371.11,160.78 372.11,160.87 373.11,161.06 374.11,161.34 375.11,161.73 376.11,162.20 377.11,162.78 378.11,163.44 379.11,164.21 380.11,165.07 381.11,166.02 382.11,167.08 383.11,168.22 384.11,169.46 385.11,170.80 386.11,172.24 387.11,173.76 388.11,175.39 389.11,177.11 390.11,178.92 391.11,180.83 392.11,182.83 393.11,184.93 394.11,187.13 395.11,189.42 396.11,191.80 397.11,194.28 398.11,196.85 399.11,199.52 400.11,202.28 401.11,205.14 402.11,208.09 403.11,211.12 404.11,214.22 405.11,217.37 406.11,220.55 407.11,223.74 408.11,226.95 409.11,230.14 410.11,233.30 411.11,236.42 412.11,239.48 413.11,242.46 414.11,245.38 415.11,248.22 416.11,250.99 417.11,253.70 418.11,256.35 419.11,258.93 420.11,261.45 421.11,263.92 422.11,266.33 423.11,268.69 424.11,271.00 425.11,273.26 426.11,275.46 427.11,277.61 428.11,279.71 429.11,281.75 430.11,283.73 431.11,285.66 432.11,287.53 433.11,289.33 434.11,291.08 435.11,292.76 436.11,294.39 437.11,295.94 438.11,297.44 439.11,298.86 440.11,300.22 441.11,301.51 442.11,302.74 443.11,303.89 444.11,304.97 445.11,305.98 446.11,306.92 447.11,307.78 448.11,308.57 449.11,309.28 450.11,309.91 451.11,310.47 452.11,310.95 453.11,311.35 454.11,311.67 455.11,311.92 456.11,312.08 457.11,312.16 458.11,312.17 459.11,312.09 460.11,311.93 461.11,311.69 462.11,311.36 463.11,310.96 464.11,310.47 465.11,309.90 466.11,309.25 467.11,308.52 468.11,307.72 469.11,306.86 470.11,305.95 471.11,304.99 472.11,303.99 473.11,302.96 474.11,301.89 475.11,300.81 476.11,299.72 477.11,298.61 478.11,297.51 479.11,296.42 480.11,295.34 481.11,294.28 482.11,293.25 483.11,292.26 484.11,291.30 485.11,290.40 486.11,289.55 487.11,288.76 488.11,288.05 489.11,287.41 490.11,286.85 491.11,286.38 492.11,285.99 493.11,285.69 494.11,285.48 495.11,285.35 496.11,285.31 497.11,285.36 498.11,285.49 499.11,285.72 500.11,286.03 501.11,286.43 502.11,286.92 503.11,287.49 504.11,288.16 505.11,288.92 506.11,289.77 507.11,290.71 508.11,291.74 509.11,292.86 510.11,294.07 511.11,295.38 512.11,296.78 513.11,298.27 514.11,299.85 515.11,301.53 516.11,303.29 517.11,305.15 518.11,307.08 519.11,309.07 520.11,311.13 521.11,313.24 522.11,315.39 523.11,317.58 524.11,319.79 525.11,322.02 526.11,324.27 527.11,326.51 528.11,328.76 529.11,330.98 530.11,333.19 531.11,335.36 532.11,337.50 533.11,339.59 534.11,341.63 535.11,343.61 536.11,345.55 537.11,347.43 538.11,349.27 539.11,351.06 540.11,352.80 541.11,354.50 542.11,356.15 543.11,357.76 544.11,359.32 545.11,360.85 546.11,362.33 547.11,363.77 548.11,365.17 549.11,366.54 550.11,367.86 551.11,369.15 552.11,370.40 553.11,371.61 554.11,372.79 555.11,373.94 556.11,375.04 557.11,376.12 558.11,377.16 559.11,378.18 560.11,379.16 561.11,380.11 562.11,381.03 563.11,381.92 564.11,382.78 565.11,383.61 566.11,384.42 567.11,385.20 568.11,385.96 569.11,386.69 570.11,387.40 571.11,388.09 572.11,388.75 573.11,389.39 574.11,390.01 575.11,390.61 576.11,391.19 577.11,391.75 578.11,392.29 579.11,392.82 580.11,393.32 581.11,393.82 582.11,394.29 583.11,394.76 584.11,395.21 585.11,395.64 586.11,396.06 587.11,396.48 588.11,396.88 589.11,397.27 590.11,397.65 591.11,398.02 592.11,398.38 593.11,398.74 594.11,399.09 595.11,399.43 596.11,399.77 597.11,400.11 598.11,400.44 599.11,400.77 600.11,401.09 601.11,401.42 602.11,401.74 603.11,402.06 604.11,402.37 605.11,402.67 606.11,402.97 607.11,403.26 608.11,403.54 609.11,403.80 610.11,404.06 611.11,404.30 612.11,404.52 613.11,404.73 614.11,404.91 615.11,405.08 616.11,405.23 617.11,405.35 618.11,405.45 619.11,405.53 620.11,405.58 621.11,405.61 622.11,405.60 623.11,405.56 624.11,405.50 625.11,405.40 626.11,405.26 627.11,405.09 628.11,404.89 629.11,404.65 630.11,404.37 631.11,404.05 632.11,403.69 633.11,403.30 634.11,402.88 635.11,402.41 636.11,401.91 637.11,401.37 638.11,400.79 639.11,400.18 640.11,399.54 641.11,398.85 642.11,398.13 643.11,397.38 644.11,396.59 645.11,395.76 646.11,394.90 647.11,394.00 648.11,393.07 649.11,392.11 650.11,391.13 651.11,390.12 652.11,389.10 653.11,388.05 654.11,387.00 655.11,385.93 656.11,384.85 657.11,383.77 658.11,382.68 659.11,381.60 660.11,380.52 661.11,379.44 662.11,378.37 663.11,377.32 664.11,376.28 665.11,375.26 666.11,374.25 667.11,373.27 668.11,372.32 669.11,371.39 670.11,370.50 671.11,369.64 672.11,368.82 673.11,368.03 674.11,367.29 675.11,366.58 676.11,365.92 677.11,365.31 678.11,364.74 679.11,364.22 680.11,363.75 681.11,363.33 682.11,362.97 683.11,362.66 684.11,362.41 685.11,362.22 686.11,362.09 687.11,362.03 688.11,362.03 689.11,362.10 690.11,362.23 691.11,362.43 692.11,362.69 693.11,363.01 694.11,363.38 695.11,363.80 696.11,364.27 697.11,364.78 698.11,365.32 699.11,365.90 700.11,366.51 701.11,367.15 702.11,367.80 703.11,368.48 704.11,369.17 705.11,369.86 706.11,370.57 707.11,371.28 708.11,371.98 709.11,372.68 710.11,373.37 711.11,374.06 712.11,374.73 713.11,375.40 714.11,376.06 715.11,376.71 716.11,377.35 717.11,377.98 718.11,378.60 719.11,379.21 720.11,379.81 721.11,380.39 722.11,380.97 723.11,381.54 724.11,382.09 725.11,382.64 726.11,383.17 727.11,383.69 728.11,384.20 729.11,384.69 730.11,385.18 731.11,385.64 732.11,386.10 733.11,386.54 734.11,386.97 735.11,387.38 736.11,387.78 737.11,388.16 738.11,388.53 739.11,388.88 740.11,389.21 741.11,389.52 742.11,389.82 743.11,390.09 744.11,390.35 745.11,390.58 746.11,390.79 747.11,390.98 748.11,391.15 749.11,391.30 750.11,391.42 751.11,391.52 752.11,391.59 753.11,391.64 754.11,391.66 755.11,391.65 756.11,391.62 757.11,391.56 758.11,391.47 759.11,391.35 760.11,391.21 761.11,391.04 762.11,390.85 763.11,390.63 764.11,390.40 765.11,390.15 766.11,389.88 767.11,389.60 768.11,389.31 769.11,389.00 770.11,388.69 771.11,388.36 772.11,388.03 773.11,387.70 774.11,387.37 775.11,387.03 776.11,386.69 777.11,386.36 778.11,386.03 779.11,385.71 780.11,385.40 781.11,385.09 782.11,384.80 783.11,384.52 784.11,384.25 785.11,384.00 786.11,383.77 787.11,383.54 788.11,383.33 789.11,383.14 790.11,382.95 791.11,382.78 792.11,382.62 793.11,382.46 794.11,382.32 795.11,382.19 796.11,382.06 797.11,381.94 798.11,381.83 799.11,381.72 800.11,381.62 801.11,381.52 802.11,381.43 803.11,381.34 804.11,381.25 805.11,381.17 806.11,381.08 807.11,381.00 808.11,380.92 809.11,380.83 810.11,380.75 811.11,380.66 812.11,380.57 813.11,380.48 814.11,380.38 815.11,380.28 816.11,380.17 817.11,380.06 818.11,379.94 819.11,379.82 820.11,379.68 821.11,379.54 822.11,379.39 823.11,379.22 824.11,379.05 825.11,378.87 826.11,378.67 827.11,378.46 828.11,378.24 829.11,378.01 830.11,377.76 831.11,377.49 832.11,377.21 833.11,376.92 834.11,376.60 835.11,376.27 836.11,375.93 837.11,375.57 838.11,375.20 839.11,374.82 840.11,374.42 841.11,374.02 842.11,373.60 843.11,373.18 844.11,372.75 845.11,372.31 846.11,371.86 847.11,371.41 848.11,370.96 849.11,370.50 850.11,370.04 851.11,369.58 852.11,369.12 853.11,368.66 854.11,368.19 855.11,367.74 856.11,367.28 857.11,366.83 858.11,366.38 859.11,365.93 860.11,365.49 861.11,365.05 862.11,364.62 863.11,364.19 864.11,363.76 865.11,363.33 866.11,362.91 867.11,362.48 868.11,362.06 869.11,361.64 870.11,361.23 871.11,360.81 872.11,360.39 873.11,359.98 874.11,359.57 875.11,359.15 876.11,358.74 877.11,358.32 878.11,357.91 879.11,357.50 880.11,357.08 881.11,356.67 882.11,356.25 883.11,355.83 884.11,355.41 885.11,354.99 886.11,354.57 887.11,354.14 888.11,353.71 889.11,353.28 890.11,352.85 891.11,352.42 892.11,351.98 893.11,351.53 894.11,351.09 895.11,350.64 896.11,350.18 897.11,349.73 898.11,349.26 899.11,348.80 900.11,348.33 901.11,347.85 902.11,347.37 903.11,346.88 904.11,346.39 905.11,345.89 906.11,345.38 907.11,344.87 908.11,344.35 909.11,343.83 910.11,343.30 911.11,342.77 912.11,342.23 913.11,341.69 914.11,341.14 915.11,340.60 916.11,340.05 917.11,339.50 918.11,338.95 919.11,338.40 920.11,337.85 921.11,337.31 922.11,336.76 923.11,336.22 924.11,335.68 925.11,335.15 926.11,334.62 927.11,334.09 928.11,333.57 929.11,333.06 930.11,332.55 931.11,332.05 932.11,331.56 933.11,331.08 934.11,330.61 935.11,330.15 936.11,329.70 937.11,329.25 938.11,328.83 939.11,328.41 940.11,328.01 941.11,327.62 942.11,327.25 943.11,326.89 944.11,326.54 945.11,326.21 946.11,325.88 947.11,325.58 948.11,325.28 949.11,324.99 950.11,324.70 951.11,324.43 952.11,324.17 953.11,323.91 954.11,323.65 955.11,323.40 956.11,323.15 957.11,322.91 958.11,322.67 959.11,322.43 960.11,322.18 961.11,321.94 962.11,321.70 963.11,321.45 964.11,321.21 965.11,320.95 966.11,320.69 967.11,320.43 968.11,320.16 969.11,319.88 970.11,319.60 971.11,319.30 972.11,319.00 973.11,318.68 974.11,318.35 975.11,318.01 976.11,317.66 977.11,317.29 978.11,316.90 979.11,316.50 980.11,316.09 981.11,315.65 982.11,315.20 983.11,314.74 984.11,314.26 985.11,313.77 986.11,313.27 987.11,312.75 988.11,312.23 989.11,311.71 990.11,311.18 991.11,310.64 992.11,310.10 993.11,309.56 994.11,309.02 995.11,308.48 996.11,307.94 997.11,307.41 998.11,306.88 999.11,306.36 1000.11,305.84 1001.11,305.34 1002.11,304.84 1003.11,304.35 1004.11,303.87 1005.11,303.40 1006.11,302.94 1007.11,302.49 1008.11,302.04 1009.11,301.60 1010.11,301.18 1011.11,300.76 1012.11,300.34 1013.11,299.94 1014.11,299.54 1015.11,299.15 1016.11,298.77 1017.11,298.39 1018.11,298.02 1019.11,297.66 1020.11,297.31 1021.11,296.96 1022.11,296.62 1023.11,296.29 1024.11,295.96 1025.11,295.64 1026.11,295.33 1027.11,295.02 1028.11,294.72 1029.11,294.42 1030.11,294.13 1031.11,293.85 1032.11,293.58 1033.11,293.31 1034.11,293.05 1035.11,292.80 1036.11,292.55 1037.11,292.31 1038.11,292.09 1039.11,291.86 1040.11,291.65 1041.11,291.44 1042.11,291.25 1043.11,291.06 1044.11,290.88 1045.11,290.71 1046.11,290.54 1047.11,290.39 1048.11,290.25 1049.11,290.11 1050.11,289.98 1051.11,289.87 1052.11,289.76 1053.11,289.66 1054.11,289.58 1055.11,289.50 1056.11,289.43 1057.11,289.38 1058.11,289.33 1059.11,289.30 1060.11,289.27 1061.11,289.26 1062.11,289.26 1063.11,289.26 1064.11,289.28 1065.11,289.31 1066.11,289.36 1067.11,289.41 1068.11,289.48 1069.11,289.56 1070.11,289.64 1071.11,289.75 1072.11,289.86 1073.11,289.99 1074.11,290.13 1075.11,290.28 1076.11,290.45 1077.11,290.62 1078.11,290.81 1079.11,291.02 1080.11,291.24 1081.11,291.47 1082.11,291.72 1083.11,291.98 1084.11,292.26 1085.11,292.55 1086.11,292.86 1087.11,293.18 1088.11,293.52 1089.11,293.87 1090.11,294.24 1091.11,294.63 1092.11,295.04 1093.11,295.46 1094.11,295.90 1095.11,296.36 1096.11,296.84 1097.11,297.33 1098.11,297.84 1099.11,298.36 1100.11,298.89 1101.11,299.44 1102.11,299.99 1103.11,300.56 1104.11,301.13 1105.11,301.71 1106.11,302.29 1107.11,302.88 1108.11,303.47 1109.11,304.06 1110.11,304.65 1111.11,305.23 1112.11,305.78 1113.11,306.28 1114.11,306.68 1115.11,306.97 1116.11,307.12 1117.11,307.10 1118.11,306.89 1119.11,306.50 1120.11,305.93 1121.11,305.21 1122.11,304.34 1123.11,303.33 1124.11,302.21 1125.11,300.97 1126.11,299.64 1127.11,298.22 1128.11,296.74 1129.11,295.19 1130.11,293.60 1131.11,291.97 1132.11,290.33 1133.11,288.67 1134.11,287.01 1135.11,285.37 1136.11,283.74 1137.11,282.13 1138.11,280.54 1139.11,278.98 1140.11,277.45 1141.11,275.95 1142.11,274.50 1143.11,273.09 1144.11,271.73 1145.11,270.43 1146.11,269.18 1147.11,267.99 1148.11,266.87 1149.11,265.82 1150.11,264.85 1151.11,263.95 1152.11,263.14 1153.11,262.41 1154.11,261.78 1155.11,261.23 1156.11,260.77 1157.11,260.39 1158.11,260.10 1159.11,259.89 1160.11,259.75 1161.11,259.70 1162.11,259.72 1163.11,259.82 1164.11,259.99 1165.11,260.23 1166.11,260.55 1167.11,260.93 1168.11,261.38 1169.11,261.90 1170.11,262.49 1171.11,263.13 1172.11,263.84 1173.11,264.61 1174.11,265.44 1175.11,266.33 1176.11,267.26 1177.11,268.25 1178.11,269.27 1179.11,270.33 1180.11,271.41 1181.11,272.53 1182.11,273.66 1183.11,274.80 1184.11,275.95 1185.11,277.11 1186.11,278.26 1187.11,279.41 1188.11,280.54 1189.11,281.65 1190.11,282.74 1191.11,283.81 1192.11,284.84 1193.11,285.85 1194.11,286.83 1195.11,287.79 1196.11,288.73 1197.11,289.65 1198.11,290.54 1199.11,291.41 1200.11,292.27 1201.11,293.10 1202.11,293.92 1203.11,294.73 1204.11,295.52 1205.11,296.29 1206.11,297.05 1207.11,297.81 1208.11,298.55 1209.11,299.28 1210.11,300.00 1211.11,300.72 1212.11,301.43 1213.11,302.13 1214.11,302.83 1215.11,303.53 1216.11,304.23 1217.11,304.92 1218.11,305.61 1219.11,306.31 1220.11,307.01 1221.11,307.71 1222.11,308.41 1223.11,309.12 1224.11,309.84 1225.11,310.56 1226.11,311.30 1227.11,312.04 1228.11,312.79 1229.11,313.56 1230.11,314.33 1231.11,315.12 1232.11,315.93 1233.11,316.74 1234.11,317.57 1235.11,318.41 1236.11,319.26 1237.11,320.12 1238.11,321.00 1239.11,321.88 1240.11,322.78 1241.11,323.69 1242.11,324.60 1243.11,325.53 1244.11,326.47 1245.11,327.42 1246.11,328.38 1247.11,329.34 1248.11,330.32 1249.11,331.31 1250.11,332.30 1251.11,333.31 1252.11,334.32 1253.11,335.34 1254.11,336.37 1255.11,337.40 1256.11,338.45 1257.11,339.50 1258.11,340.56 1259.11,341.62 1260.11,342.70 1261.11,343.77 1262.11,344.86 1263.11,345.94 1264.11,347.03 1265.11,348.13 1266.11,349.22 1267.11,350.32 1268.11,351.42 1269.11,352.52 1270.11,353.61 1271.11,354.71 1272.11,355.81 1273.11,356.90 1274.11,357.99 1275.11,359.08 1276.11,360.16 1277.11,361.24 1278.11,362.31 1279.11,363.38 1280.11,364.44 1281.11,365.49 1282.11,366.53 1283.11,367.57 1284.11,368.59 1285.11,369.61 1286.11,370.61 1287.11,371.61 1288.11,372.59 1289.11,373.56 1290.11,374.52 1291.11,375.46 1292.11,376.40 1293.11,377.32 1294.11,378.23 1295.11,379.13 1296.11,380.02 1297.11,380.89 1298.11,381.75 1299.11,382.60 1300.11,383.44 1301.11,384.26 1302.11,385.07 1303.11,385.87 1304.11,386.66 1305.11,387.43 1306.11,388.19 1307.11,388.94 1308.11,389.67 1309.11,390.39 1310.11,391.10 1311.11,391.79 1312.11,392.47 1313.11,393.13 1314.11,393.79 1315.11,394.42 1316.11,395.05 1317.11,395.66 1318.11,396.25 1319.11,396.83 1320.11,397.40 1321.11,397.95 1322.11,398.49 1323.11,399.01 1324.11,399.52 1325.11,400.01 1326.11,400.49 1327.11,400.96 1328.11,401.41 1329.11,401.84 1330.11,402.26 1331.11,402.66 1332.11,403.05 1333.11,403.42 1334.11,403.78 1335.11,404.12 1336.11,404.44 1337.11,404.75 1338.11,405.05 1339.11,405.32 1340.11,405.58 1341.11,405.83 1342.11,406.04 1343.11,406.23 1344.11,406.39 1345.11,406.51 1346.11,406.58 1347.11,406.61 1348.11,406.59 1349.11,406.51 1350.11,406.37 1351.11,406.17 1352.11,405.90 1353.11,405.55 1354.11,405.12 1355.11,404.61 1356.11,404.01 1357.11,403.32 1358.11,402.54 1359.11,401.65 1360.11,400.65 1361.11,399.54 1362.11,398.32 1363.11,396.98 1364.11,395.52 1365.11,393.92 1366.11,392.19 1367.11,390.35 1368.11,388.41 1369.11,386.41 1370.11,384.36 1371.11,382.29 1372.11,380.22 1373.11,378.19 1374.11,376.21 1375.11,374.27 1376.11,372.38 1377.11,370.51 1378.11,368.65 1379.11,366.79 1380.11,364.93 1381.11,363.06 1382.11,361.18 1383.11,359.30 1384.11,357.40 1385.11,355.50 1386.11,353.58 1387.11,351.65 1388.11,349.72 1389.11,347.77 1390.11,345.81 1391.11,343.85 1392.11,341.92 1393.11,340.02 1394.11,338.19 1395.11,336.42 1396.11,334.74 1397.11,333.18 1398.11,331.73 1399.11,330.43 1400.11,329.28 1401.11,328.31 1402.11,327.52 1403.11,326.92 1404.11,326.48 1405.11,326.20 1406.11,326.08 1407.11,326.11 1408.11,326.29 1409.11,326.59 1410.11,327.03 1411.11,327.58 1412.11,328.25 1413.11,329.03 1414.11,329.90 1415.11,330.86 1416.11,331.91 1417.11,333.04 1418.11,334.23 1419.11,335.48 1420.11,336.77 1421.11,338.11 1422.11,339.47 1423.11,340.85 1424.11,342.24 1425.11,343.63 1426.11,345.02 1427.11,346.38 1428.11,347.72 1429.11,349.03 1430.11,350.28 1431.11,351.49 1432.11,352.64 1433.11,353.73 1434.11,354.76 1435.11,355.75 1436.11,356.68 1437.11,357.56 1438.11,358.39 1439.11,359.17 1440.11,359.91 1441.11,360.61 1442.11,361.26 1443.11,361.87 1444.11,362.44 1445.11,362.97 1446.11,363.46 1447.11,363.92 1448.11,364.34 1449.11,364.73 1450.11,365.09 1451.11,365.42 1452.11,365.72 1453.11,365.99 1454.11,366.24 1455.11,366.46 1456.11,366.66 1457.11,366.83 1458.11,366.99 1459.11,367.13 1460.11,367.25 1461.11,367.36 1462.11,367.45" fill="none" stroke="#4472c4" stroke-width="1.6" stroke-linejoin="round"/>
<text x="93" y="427.80" font-size="12" text-anchor="end" fill="#000">0</text>
<text x="93" y="392.80" font-size="12" text-anchor="end" fill="#000">10</text>
<text x="93" y="357.80" font-size="12" text-anchor="end" fill="#000">20</text>
<text x="93" y="322.80" font-size="12" text-anchor="end" fill="#000">30</text>
<text x="93" y="287.80" font-size="12" text-anchor="end" fill="#000">40</text>
<text x="93" y="252.80" font-size="12" text-anchor="end" fill="#000">50</text>
<text x="93" y="217.80" font-size="12" text-anchor="end" fill="#000">60</text>
<text x="93" y="182.80" font-size="12" text-anchor="end" fill="#000">70</text>
<text x="93" y="147.80" font-size="12" text-anchor="end" fill="#000">80</text>
<text x="93" y="112.80" font-size="12" text-anchor="end" fill="#000">90</text>
<text x="93" y="77.80" font-size="12" text-anchor="end" fill="#000">100</text>
<text x="1483" y="428.90" font-size="12" fill="#404040">0</text>
<text x="1483" y="393.90" font-size="12" fill="#404040">5</text>
<text x="1483" y="358.90" font-size="12" fill="#404040">10</text>
<text x="1483" y="323.90" font-size="12" fill="#404040">15</text>
<text x="1483" y="288.90" font-size="12" fill="#404040">20</text>
<text x="1483" y="253.90" font-size="12" fill="#404040">25</text>
<text x="1483" y="218.90" font-size="12" fill="#404040">30</text>
<text x="1483" y="183.90" font-size="12" fill="#404040">35</text>
<text x="1483" y="148.90" font-size="12" fill="#404040">40</text>
<text x="1483" y="113.90" font-size="12" fill="#404040">45</text>
<text x="1483" y="78.90" font-size="12" fill="#404040">50</text>
<text transform="translate(118.01,435) rotate(-90)" font-size="10.5" text-anchor="end" textLength="41.5" lengthAdjust="spacingAndGlyphs" fill="#444">01/10/2020</text>
<text transform="translate(150.34,435) rotate(-90)" font-size="10.5" text-anchor="end" textLength="41.5" lengthAdjust="spacingAndGlyphs" fill="#444">08/10/2020</text>
<text transform="translate(182.68,435) rotate(-90)" font-size="10.5" text-anchor="end" textLength="41.5" lengthAdjust="spacingAndGlyphs" fill="#444">15/10/2020</text>
<text transform="translate(215.01,435) rotate(-90)" font-size="10.5" text-anchor="end" textLength="41.5" lengthAdjust="spacingAndGlyphs" fill="#444">22/10/2020</text>
<text transform="translate(247.34,435) rotate(-90)" font-size="10.5" text-anchor="end" textLength="41.5" lengthAdjust="spacingAndGlyphs" fill="#444">29/10/2020</text>
<text transform="translate(279.68,435) rotate(-90)" font-size="10.5" text-anchor="end" textLength="41.5" lengthAdjust="spacingAndGlyphs" fill="#444">05/11/2020</text>
<text transform="translate(312.01,435) rotate(-90)" font-size="10.5" text-anchor="end" textLength="41.5" lengthAdjust="spacingAndGlyphs" fill="#444">12/11/2020</text>
<text transform="translate(344.35,435) rotate(-90)" font-size="10.5" text-anchor="end" textLength="41.5" lengthAdjust="spacingAndGlyphs" fill="#444">19/11/2020</text>
<text transform="translate(376.68,435) rotate(-90)" font-size="10.5" text-anchor="end" textLength="41.5" lengthAdjust="spacingAndGlyphs" fill="#444">26/11/2020</text>
<text transform="translate(409.01,435) rotate(-90)" font-size="10.5" text-anchor="end" textLength="41.5" lengthAdjust="spacingAndGlyphs" fill="#444">03/12/2020</text>
<text transform="translate(441.35,435) rotate(-90)" font-size="10.5" text-anchor="end" textLength="41.5" lengthAdjust="spacingAndGlyphs" fill="#444">10/12/2020</text>
<text transform="translate(473.68,435) rotate(-90)" font-size="10.5" text-anchor="end" textLength="41.5" lengthAdjust="spacingAndGlyphs" fill="#444">17/12/2020</text>
<text transform="translate(506.02,435) rotate(-90)" font-size="10.5" text-anchor="end" textLength="41.5" lengthAdjust="spacingAndGlyphs" fill="#444">24/12/2020</text>
<text transform="translate(538.35,435) rotate(-90)" font-size="10.5" text-anchor="end" textLength="41.5" lengthAdjust="spacingAndGlyphs" fill="#444">31/12/2020</text>
<text transform="translate(570.68,435) rotate(-90)" font-size="10.5" text-anchor="end" textLength="41.5" lengthAdjust="spacingAndGlyphs" fill="#444">07/01/2021</text>
<text transform="translate(603.02,435) rotate(-90)" font-size="10.5" text-anchor="end" textLength="41.5" lengthAdjust="spacingAndGlyphs" fill="#444">14/01/2021</text>
<text transform="translate(635.35,435) rotate(-90)" font-size="10.5" text-anchor="end" textLength="41.5" lengthAdjust="spacingAndGlyphs" fill="#444">21/01/2021</text>
<text transform="translate(667.68,435) rotate(-90)" font-size="10.5" text-anchor="end" textLength="41.5" lengthAdjust="spacingAndGlyphs" fill="#444">28/01/2021</text>
<text transform="translate(700.02,435) rotate(-90)" font-size="10.5" text-anchor="end" textLength="41.5" lengthAdjust="spacingAndGlyphs" fill="#444">04/02/2021</text>
<text transform="translate(732.35,435) rotate(-90)" font-size="10.5" text-anchor="end" textLength="41.5" lengthAdjust="spacingAndGlyphs" fill="#444">11/02/2021</text>
<text transform="translate(764.69,435) rotate(-90)" font-size="10.5" text-anchor="end" textLength="41.5" lengthAdjust="spacingAndGlyphs" fill="#444">18/02/2021</text>
<text transform="translate(797.02,435) rotate(-90)" font-size="10.5" text-anchor="end" textLength="41.5" lengthAdjust="spacingAndGlyphs" fill="#444">25/02/2021</text>
<text transform="translate(829.35,435) rotate(-90)" font-size="10.5" text-anchor="end" textLength="41.5" lengthAdjust="spacingAndGlyphs" fill="#444">04/03/2021</text>
<text transform="translate(861.69,435) rotate(-90)" font-size="10.5" text-anchor="end" textLength="41.5" lengthAdjust="spacingAndGlyphs" fill="#444">11/03/2021</text>
<text transform="translate(894.02,435) rotate(-90)" font-size="10.5" text-anchor="end" textLength="41.5" lengthAdjust="spacingAndGlyphs" fill="#444">18/03/2021</text>
<text transform="translate(926.35,435) rotate(-90)" font-size="10.5" text-anchor="end" textLength="41.5" lengthAdjust="spacingAndGlyphs" fill="#444">25/03/2021</text>
<text transform="translate(958.69,435) rotate(-90)" font-size="10.5" text-anchor="end" textLength="41.5" lengthAdjust="spacingAndGlyphs" fill="#444">01/04/2021</text>
<text transform="translate(991.02,435) rotate(-90)" font-size="10.5" text-anchor="end" textLength="41.5" lengthAdjust="spacingAndGlyphs" fill="#444">08/04/2021</text>
<text transform="translate(1023.36,435) rotate(-90)" font-size="10.5" text-anchor="end" textLength="41.5" lengthAdjust="spacingAndGlyphs" fill="#444">15/04/2021</text>
<text transform="translate(1055.69,435) rotate(-90)" font-size="10.5" text-anchor="end" textLength="41.5" lengthAdjust="spacingAndGlyphs" fill="#444">22/04/2021</text>
<text transform="translate(1088.02,435) rotate(-90)" font-size="10.5" text-anchor="end" textLength="41.5" lengthAdjust="spacingAndGlyphs" fill="#444">29/04/2021</text>
<text transform="translate(1120.36,435) rotate(-90)" font-size="10.5" text-anchor="end" textLength="41.5" lengthAdjust="spacingAndGlyphs" fill="#444">06/05/2021</text>
<text transform="translate(1152.69,435) rotate(-90)" font-size="10.5" text-anchor="end" textLength="41.5" lengthAdjust="spacingAndGlyphs" fill="#444">13/05/2021</text>
<text transform="translate(1185.02,435) rotate(-90)" font-size="10.5" text-anchor="end" textLength="41.5" lengthAdjust="spacingAndGlyphs" fill="#444">20/05/2021</text>
<text transform="translate(1217.36,435) rotate(-90)" font-size="10.5" text-anchor="end" textLength="41.5" lengthAdjust="spacingAndGlyphs" fill="#444">27/05/2021</text>
<text transform="translate(1249.69,435) rotate(-90)" font-size="10.5" text-anchor="end" textLength="41.5" lengthAdjust="spacingAndGlyphs" fill="#444">03/06/2021</text>
<text transform="translate(1282.03,435) rotate(-90)" font-size="10.5" text-anchor="end" textLength="41.5" lengthAdjust="spacingAndGlyphs" fill="#444">10/06/2021</text>
<text transform="translate(1314.36,435) rotate(-90)" font-size="10.5" text-anchor="end" textLength="41.5" lengthAdjust="spacingAndGlyphs" fill="#444">17/06/2021</text>
<text transform="translate(1346.69,435) rotate(-90)" font-size="10.5" text-anchor="end" textLength="41.5" lengthAdjust="spacingAndGlyphs" fill="#444">24/06/2021</text>
<text transform="translate(1379.03,435) rotate(-90)" font-size="10.5" text-anchor="end" textLength="41.5" lengthAdjust="spacingAndGlyphs" fill="#444">01/07/2021</text>
<text transform="translate(1411.36,435) rotate(-90)" font-size="10.5" text-anchor="end" textLength="41.5" lengthAdjust="spacingAndGlyphs" fill="#444">08/07/2021</text>
<text transform="translate(1443.69,435) rotate(-90)" font-size="10.5" text-anchor="end" textLength="41.5" lengthAdjust="spacingAndGlyphs" fill="#444">15/07/2021</text>
<text transform="translate(20.5,228) rotate(-90)" font-size="16" text-anchor="middle" textLength="226" lengthAdjust="spacingAndGlyphs" fill="#000">Ρυθμός μεταβολής κρουσμάτων</text>
<rect x="123" y="15" width="30" height="10.5" fill="#a5a5a5"/>
<line x1="123" y1="45.8" x2="153" y2="45.8" stroke="#ed7d31" stroke-width="2.5"/>
<line x1="888" y1="20" x2="898.5" y2="20" stroke="#ff0000" stroke-width="3.8" stroke-linecap="round"/>
<line x1="913.8" y1="20" x2="919" y2="20" stroke="#ff0000" stroke-width="3.8" stroke-linecap="round"/>
<line x1="887" y1="45.8" x2="920" y2="45.8" stroke="#4472c4" stroke-width="2"/>
<text x="158.6" y="22.7" font-size="15" stroke="#000" stroke-width="0.35" textLength="122.7" lengthAdjust="spacingAndGlyphs" fill="#000">Κρούσματα ανά</text>
<text x="288" y="22.7" font-size="9.6" textLength="45" lengthAdjust="spacingAndGlyphs" fill="#000">100.000</text>
<text x="336" y="22.7" font-size="10" fill="#000">(</text>
<text x="341.6" y="22.7" font-size="15" stroke="#000" stroke-width="0.35" textLength="181.7" lengthAdjust="spacingAndGlyphs" fill="#000">Κυλιόμενος μέσος όρος</text>
<text x="527.7" y="22.7" font-size="10" fill="#000">7</text>
<text x="539.6" y="22.7" font-size="15" stroke="#000" stroke-width="0.35" textLength="59.3" lengthAdjust="spacingAndGlyphs" fill="#000">ημερών</text>
<text x="599.5" y="22.7" font-size="10" fill="#000">)</text>
<text x="158.6" y="48.6" font-size="15" stroke="#000" stroke-width="0.35" textLength="388.6" lengthAdjust="spacingAndGlyphs" fill="#000">Ρυθμός μεταβολής επιβεβαιωμένων κρουσμάτων</text>
<text x="553" y="48.8" font-size="11" textLength="137.2" lengthAdjust="spacingAndGlyphs" fill="#000">(7days moving average)</text>
<text x="921.4" y="22.5" font-size="15" stroke="#000" stroke-width="0.35" textLength="282.8" lengthAdjust="spacingAndGlyphs" fill="#000">Όριο μετάβασης σε κόκκινη περιοχή</text>
<text x="923" y="48.8" font-size="15" stroke="#000" stroke-width="0.35" textLength="330" lengthAdjust="spacingAndGlyphs" fill="#000">Ρυθμός μεταβολής κρουσμάτων μοντέλου</text>
<text x="1258.7" y="48.8" font-size="11" textLength="137.7" lengthAdjust="spacingAndGlyphs" fill="#000">(7days moving average)</text>
</svg></body></html>
